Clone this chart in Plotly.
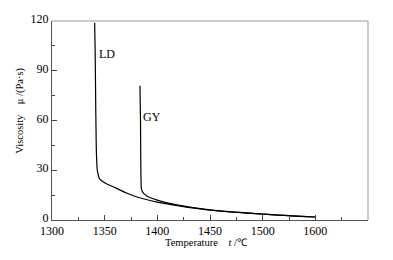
import plotly.graph_objects as go

# LD curve
ld_t = [1340.5, 1341.0, 1341.5, 1342.0, 1342.5, 1343.0, 1344.0, 1345.0, 1350, 1360, 1370, 1380, 1400, 1420, 1450, 1500, 1550]
ld_mu = [119, 100, 70, 45, 35, 30, 27, 25, 22.5, 19.5, 16.5, 14, 10.8, 8.6, 6.0, 3.6, 1.8]

# GY curve
gy_t = [1383.5, 1384.0, 1384.3, 1384.6, 1385.0, 1387, 1390, 1400, 1420, 1450, 1500, 1550]
gy_mu = [81, 60, 35, 22, 18.5, 16, 14.5, 12, 9.0, 6.1, 3.6, 1.8]

x_tickvals = [1300, 1350, 1400, 1450, 1500, 1550]
x_ticktext = ["1300", "1350", "1400", "1450", "1500", "1600"]
y_tickvals = [0, 30, 60, 90, 120]

font = "Liberation Serif, Times New Roman, serif"

fig = go.Figure()
fig.add_trace(go.Scatter(x=ld_t, y=ld_mu, mode="lines", line=dict(color="black", width=1.2), line_shape="spline", showlegend=False))
fig.add_trace(go.Scatter(x=gy_t, y=gy_mu, mode="lines", line=dict(color="black", width=1.2), line_shape="spline", showlegend=False))

fig.add_annotation(x=1352, y=100, text="LD", showarrow=False, font=dict(family=font, size=12, color="black"))
fig.add_annotation(x=1395, y=62, text="GY", showarrow=False, font=dict(family=font, size=12, color="black"))

fig.add_annotation(xref="paper", yref="paper", x=0.49, y=-0.112, yanchor="middle",
                   text="Temperature&nbsp;&nbsp;&nbsp;&nbsp;<i>t</i> /℃", showarrow=False,
                   font=dict(family=font, size=10.5, color="black"))
fig.add_annotation(xref="paper", yref="paper", x=-0.102, y=0.548, xanchor="center", yanchor="middle",
                   text="Viscosity&nbsp;&nbsp;&nbsp;&nbsp;μ /(Pa·s)", textangle=-90, showarrow=False,
                   font=dict(family=font, size=10.5, color="black"))

# lighter top/right frame
fig.add_shape(type="line", xref="paper", yref="paper", x0=0, x1=1, y0=1, y1=1, line=dict(color="#999", width=1))
fig.add_shape(type="line", xref="paper", yref="paper", x0=1, x1=1, y0=0, y1=1, line=dict(color="#999", width=1))

fig.update_xaxes(range=[1300, 1600], tickvals=x_tickvals, ticktext=x_ticktext,
                 ticks="inside", ticklen=5, tickcolor="#444", showline=True, linecolor="#555", linewidth=1,
                 showgrid=False, zeroline=False,
                 minor=dict(ticks="inside", ticklen=3, dtick=25, tickcolor="#444", showgrid=False),
                 tickfont=dict(family=font, size=12, color="black"))
fig.update_yaxes(range=[0, 120], tickvals=y_tickvals,
                 ticks="inside", ticklen=5, tickcolor="#444", showline=True, linecolor="#555", linewidth=1,
                 showgrid=False, zeroline=False, ticklabelshift=-2,
                 minor=dict(ticks="inside", ticklen=3, dtick=15, tickcolor="#444", showgrid=False),
                 tickfont=dict(family=font, size=12, color="black"))

fig.update_layout(width=393, height=260, margin=dict(l=52, r=25, t=12, b=40),
                  plot_bgcolor="white", paper_bgcolor="white")

fig.write_html("out.html", config={"displayModeBar": False},
               post_script="document.body.style.margin='0';document.body.style.overflow='hidden';")
